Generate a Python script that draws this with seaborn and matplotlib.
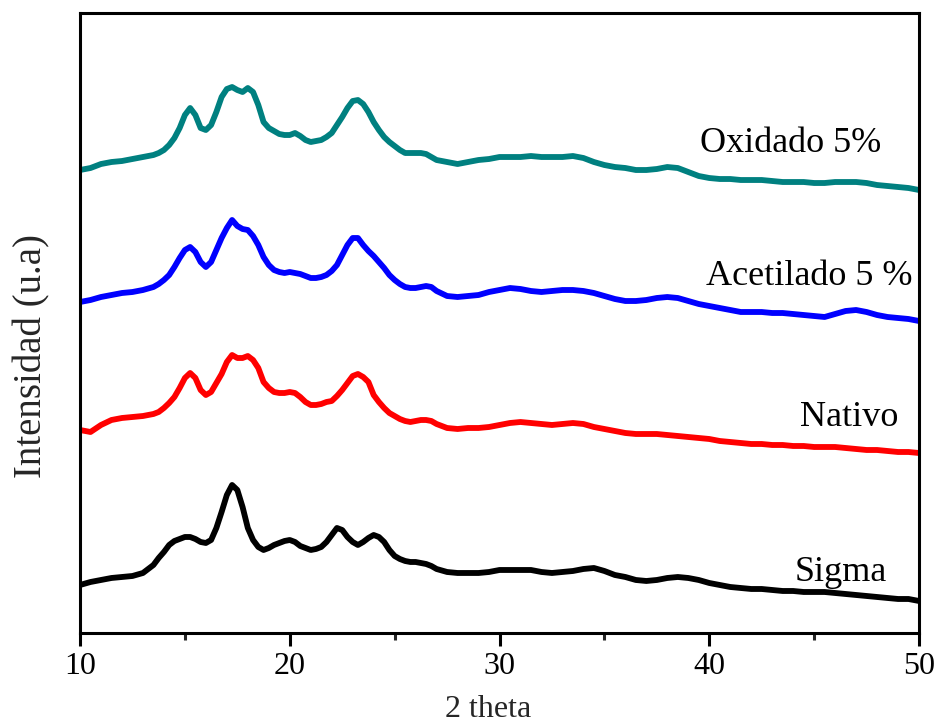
import numpy as np
import pandas as pd
import matplotlib
matplotlib.use("Agg")
import matplotlib.pyplot as plt
import seaborn as sns

# 2-theta sampling used for the read-off values (finer through the peak region)
two_theta = np.concatenate([
    np.arange(10.0, 13.51, 0.5),
    np.arange(13.75, 27.01, 0.25),
    np.arange(27.5, 50.01, 0.5),
])

# intensities (a.u., already stacked with vertical offsets as in the figure)
oxidado = [
    462, 464, 468, 470, 471, 473, 475, 477,
    479, 482, 487, 494, 504, 517, 524, 517, 504, 502, 507, 520, 535, 543, 545, 542,
    540, 544, 540, 527, 510, 504, 501, 498, 497, 497, 499, 496, 492, 490, 491, 492,
    495, 499, 507, 515, 524, 531, 532, 528, 520, 510, 502, 495, 490, 486, 482, 479,
    479, 479, 479, 478, 475, 472,
    470, 468, 470, 472, 473, 475, 475, 475, 476, 475, 475, 475, 476, 474, 470, 467,
    465, 464, 462, 462, 463, 465, 464, 460, 456, 454, 453, 453, 452, 452, 452, 451,
    450, 450, 450, 449, 449, 450, 450, 450, 449, 447, 446, 445, 444, 442,
]
acetilado = [
    330, 332, 335, 337, 339, 340, 342, 345,
    348, 352, 357, 365, 374, 382, 385, 380, 370, 365, 370, 382, 394, 404, 412, 406,
    403, 402, 396, 387, 375, 367, 362, 360, 359, 360, 359, 358, 356, 354, 354, 355,
    357, 361, 367, 377, 387, 394, 394, 387, 381, 376, 370, 364, 357, 352, 348, 345,
    344, 344, 345, 346, 345, 341,
    336, 335, 336, 337, 340, 342, 344, 343, 341, 340, 341, 342, 342, 341, 339, 336,
    333, 331, 331, 332, 334, 335, 334, 331, 328, 326, 324, 322, 320, 320, 320, 319,
    319, 318, 317, 316, 315, 318, 321, 322, 320, 317, 315, 314, 313, 311,
]
nativo = [
    202, 200, 207, 212, 214, 215, 216, 218,
    220, 224, 229, 235, 244, 254, 259, 254, 242, 237, 240, 249, 258, 270, 277, 274,
    274, 276, 272, 264, 250, 244, 240, 239, 239, 240, 239, 235, 230, 227, 227, 228,
    230, 231, 236, 242, 249, 256, 258, 255, 250, 237, 230, 224, 219, 216, 213, 211,
    210, 211, 212, 212, 211, 208,
    204, 203, 204, 204, 205, 207, 209, 210, 209, 208, 207, 208, 209, 208, 205, 203,
    201, 199, 198, 198, 198, 197, 196, 195, 194, 193, 191, 190, 189, 188, 188, 187,
    187, 186, 186, 185, 185, 185, 184, 183, 182, 182, 181, 180, 180, 179,
]
sigma = [
    47, 50, 52, 54, 55, 56, 59, 67,
    74, 80, 87, 91, 93, 95, 95, 93, 90, 89, 92, 104, 120, 137, 147, 142,
    125, 104, 92, 85, 82, 84, 87, 89, 91, 92, 90, 86, 84, 82, 83, 85,
    90, 97, 104, 102, 95, 90, 87, 90, 94, 97, 95, 90, 82, 76, 73, 71,
    70, 70, 69, 68, 66, 63,
    60, 59, 59, 59, 60, 62, 62, 62, 62, 60, 59, 60, 61, 63, 64, 61,
    57, 55, 52, 51, 52, 54, 55, 54, 52, 49, 47, 45, 44, 43, 43, 42,
    41, 41, 40, 40, 40, 39, 38, 37, 36, 35, 34, 33, 33, 31,
]

samples = ["Oxidado 5%", "Acetilado 5 %", "Nativo", "Sigma"]
colors = ["#008080", "#0000FF", "#FF0000", "#000000"]
label_x = [43.9, 44.75, 46.66, 46.28]
label_y = [480, 347, 206, 51]

df = pd.concat([
    pd.DataFrame({"2theta": two_theta, "I": vals, "sample": name})
    for name, vals in zip(samples, [oxidado, acetilado, nativo, sigma])
], ignore_index=True)

sns.set_style("ticks")
plt.rcParams["font.family"] = ["Liberation Serif", "DejaVu Serif"]

fig = plt.figure(figsize=(9.37, 7.23), dpi=100)
ax = fig.add_axes([0.0854, 0.1245, 0.8954, 0.8575])

# thick strokes stand in for the counting noise band of the raw scans
sns.lineplot(data=df, x="2theta", y="I", hue="sample", palette=colors,
             hue_order=samples, linewidth=4.2, legend=False, ax=ax, sort=False)

for name, tx, ty in zip(samples, label_x, label_y):
    ax.text(tx, ty, name, ha="center", va="baseline", fontsize=26, color="black")

ax.set_xlim(10, 50)
ax.set_ylim(-1, 619)
ax.set_xticks([10, 20, 30, 40, 50])
ax.set_xticks([15, 25, 35, 45], minor=True)
ax.set_yticks([])
ax.tick_params(axis="x", which="major", direction="out", length=9, width=2.2,
               labelsize=23, pad=5, colors="black")
ax.tick_params(axis="x", which="minor", direction="out", length=5, width=2.2)
for sp in ax.spines.values():
    sp.set_linewidth(2.2)
    sp.set_color("black")

ax.set_xlabel("2 theta", fontsize=23)
ax.set_ylabel("Intensidad (u.a)", fontsize=28)
ax.xaxis.set_label_coords(0.486, -0.1)
ax.yaxis.set_label_coords(-0.035, 0.447)

fig.savefig("out.png", dpi=100)
